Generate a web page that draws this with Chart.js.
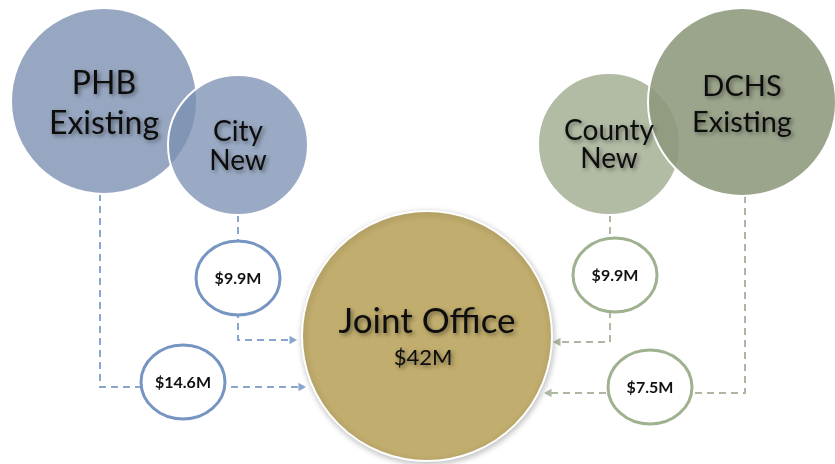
<!DOCTYPE html>
<html>
<head>
<meta charset="utf-8">
<script src="https://cdn.jsdelivr.net/npm/chart.js@4/dist/chart.umd.min.js"></script>
<style>
  html, body { margin: 0; padding: 0; background: #fff; }
  #wrap { width: 835px; height: 464px; position: relative; }
</style>
</head>
<body>
<div id="wrap"><canvas id="chart"></canvas></div>
<script>
// funding sources (big circles) and the joint office they feed
const nodeLabels = [['PHB', 'Existing'], ['City', 'New'], ['County', 'New'], ['DCHS', 'Existing'], ['Joint Office']];
const nodeX = [104, 238, 609, 742, 427];
const nodeY = [101, 145, 144, 102, 336];
const nodeR = [93, 70, 71, 94, 125];

// money flowing to the joint office ($M)
const fundingAmounts = [14.6, 9.9, 9.9, 7.5];
const fundingX = [183, 238, 615, 650];
const fundingY = [382, 278, 275, 387];
const totalFunding = 42;

// dashed connectors, source -> joint office
const phbPath = [[100, 194], [100, 387], [301, 387]];
const cityPath = [[238, 215], [238, 340], [292, 340]];
const countyPath = [[610, 215], [610, 342], [558, 342]];
const dchsPath = [[745, 196], [745, 393], [549, 393]];

const BLUE_LINE = '#8aa6cf';
const GREEN_LINE = '#aeb7a2';
const FONT = 'Lato, "Open Sans", sans-serif';

const fmt = v => '$' + v.toFixed(1) + 'M';

function bubble(i, color, order, shadow) {
  return {
    type: 'bubble',
    data: [{x: nodeX[i], y: nodeY[i], r: nodeR[i]}],
    backgroundColor: color,
    borderColor: '#ffffff',
    borderWidth: 2,
    hoverBorderWidth: 2,
    order: order,
    clip: false,
    shadow: shadow
  };
}

function connector(path, color, rot) {
  return {
    type: 'scatter',
    showLine: true,
    data: path.map(p => ({x: p[0], y: p[1]})),
    borderColor: color,
    backgroundColor: color,
    borderWidth: 2,
    borderDash: [7, 5],
    pointStyle: 'triangle',
    rotation: rot,
    pointRadius: path.map((p, i) => i === path.length - 1 ? 5 : 0),
    pointBorderWidth: 0,
    order: 20,
    clip: false
  };
}

const shadowPlugin = {
  id: 'shadow',
  beforeDatasetDraw(chart, args) {
    const ctx = chart.ctx;
    ctx.save();
    if (chart.data.datasets[args.index].shadow) {
      ctx.shadowColor = 'rgba(0,0,0,0.25)';
      ctx.shadowBlur = 6;
      ctx.shadowOffsetX = 1;
      ctx.shadowOffsetY = 2;
    }
  },
  afterDatasetDraw(chart) {
    chart.ctx.restore();
  }
};

const labelPlugin = {
  id: 'labels',
  afterDatasetsDraw(chart) {
    const ctx = chart.ctx;
    const xs = chart.scales.x, ys = chart.scales.y;
    ctx.save();
    ctx.textAlign = 'center';
    ctx.textBaseline = 'middle';

    // funding ellipses
    fundingAmounts.forEach((v, i) => {
      const px = xs.getPixelForValue(fundingX[i]);
      const py = ys.getPixelForValue(fundingY[i]);
      ctx.beginPath();
      ctx.ellipse(px, py, 42, 37, 0, 0, Math.PI * 2);
      ctx.fillStyle = '#ffffff';
      ctx.fill();
      ctx.lineWidth = 3;
      ctx.strokeStyle = i < 2 ? '#7695c2' : '#9fb18f';
      ctx.stroke();
      ctx.fillStyle = '#111';
      ctx.font = 'bold 16px ' + FONT;
      ctx.fillText(fmt(v), px, py + 1);
    });

    // node titles
    const sizes = [32, 28, 28, 29, 35];
    const gaps = [40, 29, 28, 36, 0];
    const lift = [-17, -13, -13, -15, -14];
    ctx.shadowColor = 'rgba(0,0,0,0.45)';
    ctx.shadowBlur = 4;
    ctx.shadowOffsetX = 2;
    ctx.shadowOffsetY = 2;
    ctx.fillStyle = '#0d0d0d';
    nodeLabels.forEach((lines, i) => {
      const px = xs.getPixelForValue(nodeX[i]);
      const py = ys.getPixelForValue(nodeY[i]);
      ctx.font = sizes[i] + 'px ' + FONT;
      lines.forEach((t, k) => ctx.fillText(t, px, py + lift[i] + k * gaps[i]));
    });
    ctx.font = '22px ' + FONT;
    ctx.fillText('$' + totalFunding + 'M', xs.getPixelForValue(nodeX[4]) - 4, ys.getPixelForValue(nodeY[4]) + 22);
    ctx.restore();
  }
};

new Chart(document.getElementById('chart'), {
  type: 'bubble',
  data: {
    datasets: [
      bubble(4, '#c1ad6d', 5, true),
      bubble(3, 'rgba(140,152,123,0.87)', 6, false),
      bubble(2, 'rgba(167,178,152,0.87)', 7, false),
      bubble(1, 'rgba(122,143,177,0.76)', 8, false),
      bubble(0, 'rgba(118,139,173,0.76)', 9, false),
      connector(phbPath, BLUE_LINE, 90),
      connector(cityPath, BLUE_LINE, 90),
      connector(countyPath, GREEN_LINE, -90),
      connector(dchsPath, GREEN_LINE, -90)
    ]
  },
  options: {
    responsive: true,
    maintainAspectRatio: false,
    animation: false,
    events: [],
    layout: { padding: 0, autoPadding: false },
    plugins: { legend: { display: false }, tooltip: { enabled: false } },
    scales: {
      x: { type: 'linear', min: 0, max: 835, display: false },
      y: { type: 'linear', min: 0, max: 464, reverse: true, display: false }
    }
  },
  plugins: [shadowPlugin, labelPlugin]
});
</script>
</body>
</html>
